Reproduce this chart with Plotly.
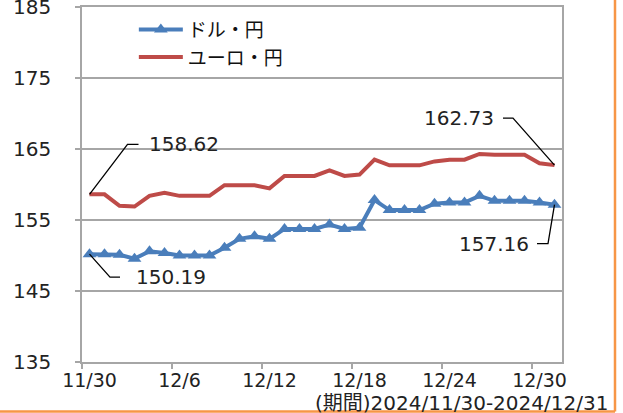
import plotly.graph_objects as go

dates = ["11/30", "12/1", "12/2", "12/3", "12/4", "12/5", "12/6", "12/7", "12/8",
         "12/9", "12/10", "12/11", "12/12", "12/13", "12/14", "12/15", "12/16",
         "12/17", "12/18", "12/19", "12/20", "12/21", "12/22", "12/23", "12/24",
         "12/25", "12/26", "12/27", "12/28", "12/29", "12/30", "12/31"]
usd_jpy = [150.19, 150.19, 150.10, 149.55, 150.60, 150.35, 150.00, 150.00, 150.00,
           151.10, 152.35, 152.70, 152.35, 153.75, 153.75, 153.75, 154.35,
           153.75, 153.90, 157.80, 156.40, 156.40, 156.40, 157.30, 157.45,
           157.45, 158.40, 157.70, 157.70, 157.70, 157.45, 157.16]
eur_jpy = [158.62, 158.62, 157.00, 156.90, 158.40, 158.85, 158.40, 158.40, 158.40,
           159.90, 159.90, 159.90, 159.45, 161.20, 161.20, 161.20, 162.00,
           161.20, 161.40, 163.50, 162.70, 162.70, 162.70, 163.25, 163.50,
           163.50, 164.30, 164.20, 164.20, 164.20, 163.00, 162.73]
tick_idx = [0, 6, 12, 18, 24, 30]
tick_labels = [dates[i] for i in tick_idx]
y_ticks = [135, 145, 155, 165, 175, 185]

W, H = 623, 413
L, R, T, B = 82, 61, 7, 51
pw, ph = W - L - R, H - T - B
n = len(dates)
xs = list(range(n))
px2x = n / pw
px2y = 50 / ph

BLUE = "#4A7EBB"
RED = "#BE4B48"
GRID = "#A6A6A6"
NUMFONT = "DejaVu Sans"

fig = go.Figure()
fig.add_trace(go.Scatter(x=xs, y=usd_jpy, name="ドル・円", mode="lines+markers",
                         line=dict(color=BLUE, width=4),
                         marker=dict(symbol="triangle-up", size=12, color=BLUE)))
fig.add_trace(go.Scatter(x=xs, y=eur_jpy, name="ユーロ・円", mode="lines",
                         line=dict(color=RED, width=4)))

def leader(x0, y0, pts):
    d = f"M {x0},{y0}"
    for dx, dy in pts:
        d += f" L {x0 + dx * px2x},{y0 + dy * px2y}"
    fig.add_shape(type="path", path=d, xref="x", yref="y",
                  line=dict(color="black", width=1.3))

def label(x0, y0, txt, xs_, ys_):
    fig.add_annotation(x=x0, y=y0, xref="x", yref="y", text=txt, showarrow=False,
                       xshift=xs_, yshift=ys_, font=dict(family=NUMFONT, size=20, color="#222"))

last = n - 1
leader(0, eur_jpy[0], [(38, 50), (49, 50)])
label(0, eur_jpy[0], f"{eur_jpy[0]:.2f}", 94, 50)
leader(0, usd_jpy[0], [(20.5, -23), (30.5, -23)])
label(0, usd_jpy[0], f"{usd_jpy[0]:.2f}", 81, -23)
leader(last, eur_jpy[last], [(-41.5, 47), (-51.5, 47)])
label(last, eur_jpy[last], f"{eur_jpy[last]:.2f}", -96, 47)
leader(last, usd_jpy[last], [(-6.5, -39), (-17.5, -39)])
label(last, usd_jpy[last], f"{usd_jpy[last]:.2f}", -60.5, -39)

fig.add_annotation(x=(610 - L) / pw, y=(H - B - 403) / ph, xref="paper", yref="paper",
                   xanchor="right", yanchor="middle", showarrow=False,
                   text="(期間)2024/11/30-2024/12/31",
                   font=dict(family="DejaVu Sans, Noto Sans CJK JP", size=20, color="#222"))

# orange frame (right and bottom)
ox = (615 - L) / pw
oy = (H - B - 411.5) / ph
fig.add_shape(type="line", xref="paper", yref="paper", x0=ox, x1=ox, y0=oy, y1=(H - B) / ph + 0.05,
              line=dict(color="#F79646", width=2.5))
fig.add_shape(type="line", xref="paper", yref="paper", x0=-L / pw - 0.05, x1=ox, y0=oy, y1=oy,
              line=dict(color="#F79646", width=2.5))

fig.update_layout(
    width=W, height=H, margin=dict(l=L, r=R, t=T, b=B, autoexpand=False),
    paper_bgcolor="white", plot_bgcolor="white",
    showlegend=True,
    legend=dict(x=0.108, y=0.99, xanchor="left", yanchor="top",
                font=dict(family="Noto Sans CJK JP", size=19, color="#111"),
                bgcolor="rgba(0,0,0,0)", tracegroupgap=0, itemwidth=44),
    xaxis=dict(range=[-0.5, n - 0.5], tickmode="array", tickvals=tick_idx, ticktext=tick_labels,
               ticks="", showgrid=False, zeroline=False, automargin=False,
               showline=True, linecolor=GRID, linewidth=1.5, mirror=True,
               tickfont=dict(family=NUMFONT, size=19, color="#222"),
               ticklabelstandoff=0, ticklabeloverflow="allow",
               minor=dict(tickmode="array", tickvals=[i - 0.5 for i in tick_idx],
                          ticks="outside", ticklen=5, tickcolor=GRID, tickwidth=1.5, showgrid=False)),
    yaxis=dict(range=[135, 185], tickmode="array", tickvals=y_ticks, automargin=False,
               ticks="outside", ticklen=5, tickcolor=GRID, tickwidth=1.5,
               showgrid=True, gridcolor=GRID, gridwidth=1.5, zeroline=False,
               showline=True, linecolor=GRID, linewidth=1.5, mirror=True,
               tickfont=dict(family=NUMFONT, size=20, color="#222"),
               ticklabelstandoff=20, ticklabeloverflow="allow"),
)

fig.write_html("out.html", config={"displayModeBar": False},
               post_script="document.body.style.margin='0px';")
